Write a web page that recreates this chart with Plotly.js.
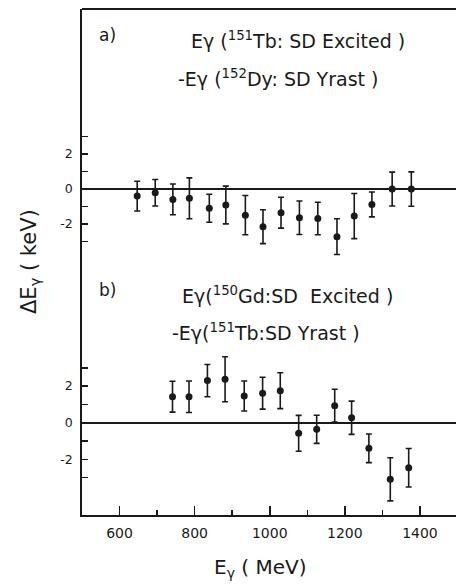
<!DOCTYPE html>
<html>
<head>
<meta charset="utf-8">
<script src="https://cdn.plot.ly/plotly-3.0.1.min.js"></script>
<style>html,body{margin:0;padding:0;background:#fff;overflow:hidden}#chart{width:456px;height:586px}</style>
</head>
<body>
<div id="chart"></div>
<script>
// Panel a) : Eγ(151Tb SD excited) - Eγ(152Dy SD yrast)
const energyA = [647, 695, 742, 786, 839, 883, 935, 982, 1030, 1079, 1128, 1179, 1225, 1272, 1326, 1377];
const deltaA  = [-0.4, -0.21, -0.59, -0.53, -1.10, -0.91, -1.49, -2.15, -1.35, -1.64, -1.68, -2.72, -1.54, -0.88, 0.0, 0.0];
const errA    = [0.85, 0.76, 0.88, 1.17, 0.80, 1.08, 1.12, 0.97, 0.88, 0.96, 0.93, 1.02, 1.29, 0.71, 0.97, 0.98];
// Panel b) : Eγ(150Gd SD excited) - Eγ(151Tb SD yrast)
const energyB = [741, 785, 834, 881, 932, 981, 1028, 1077, 1125, 1173, 1218, 1264, 1321, 1370];
const deltaB  = [1.42, 1.42, 2.30, 2.37, 1.46, 1.61, 1.75, -0.58, -0.36, 0.93, 0.27, -1.40, -3.09, -2.46];
const errB    = [0.84, 0.86, 0.88, 1.23, 0.82, 0.87, 0.98, 0.98, 0.77, 0.90, 0.91, 0.78, 1.18, 1.05];

const xMajor = [600, 800, 1000, 1200, 1400];
const xMinor = [700, 900, 1100, 1300];
const yTicks = [-3, -2, -1, 0, 1, 2, 3];
const yTickText = ['', '-2', '', '0', '', '2', ''];

const ink = '#1a1a1a';
const font = 'DejaVu Sans, Liberation Sans, sans-serif';

const errStyle = {type: 'data', visible: true, color: ink, thickness: 1.6, width: 3};
const traces = [
  {x: energyA, y: deltaA, xaxis: 'x', yaxis: 'y2', type: 'scatter', mode: 'markers',
   marker: {color: ink, size: 7}, error_y: Object.assign({array: errA}, errStyle), hoverinfo: 'none'},
  {x: energyB, y: deltaB, xaxis: 'x', yaxis: 'y', type: 'scatter', mode: 'markers',
   marker: {color: ink, size: 7}, error_y: Object.assign({array: errB}, errStyle), hoverinfo: 'none'}
];

const split = 0.4249;
const yCommon = {
  tickmode: 'array', tickvals: yTicks, ticktext: yTickText,
  ticks: 'inside', ticklen: 6, tickwidth: 1.5, tickcolor: ink,
  showline: true, linecolor: ink, linewidth: 1.8,
  showgrid: false, zeroline: true, zerolinecolor: ink, zerolinewidth: 1.6,
  tickfont: {family: font, size: 12.5, color: ink}, ticklabelstandoff: 5,
  anchor: 'x', fixedrange: true
};

const textFont = {family: font, size: 19, color: ink};
const layout = {
  width: 456, height: 586,
  margin: {l: 82, r: 0, t: 9, b: 71},
  paper_bgcolor: '#fff', plot_bgcolor: '#fff',
  showlegend: false,
  font: {family: font, color: ink},
  xaxis: {
    range: [500, 1496], tickmode: 'array', tickvals: xMajor, ticktext: xMajor.map(String),
    ticks: 'inside', ticklen: 9, tickwidth: 1.5, tickcolor: ink,
    minor: {tickmode: 'array', tickvals: xMinor, ticks: 'inside', ticklen: 5, tickwidth: 1.5, tickcolor: ink, showgrid: false},
    showline: true, linecolor: ink, linewidth: 1.8, showgrid: false, zeroline: false,
    tickfont: {family: font, size: 14, color: ink}, ticklabelstandoff: 4, fixedrange: true
  },
  yaxis: Object.assign({domain: [0, split], range: [-5.04, 6.70]}, yCommon),
  yaxis2: Object.assign({domain: [split, 1], range: [-6.34, 10.29]}, yCommon),
  shapes: [
    {type: 'line', xref: 'paper', yref: 'paper', x0: 0, x1: 1, y0: 1, y1: 1, line: {color: ink, width: 1.8}}
  ],
  annotations: [
    {xref: 'paper', yref: 'paper', x: 0.476, y: -0.105, xanchor: 'center', yanchor: 'middle',
     text: 'E<sub>γ</sub> ( MeV)', showarrow: false, font: {family: font, size: 20, color: ink}},
    {xref: 'paper', yref: 'paper', x: -0.139, y: 0.5, xanchor: 'center', yanchor: 'middle', textangle: -90,
     text: 'ΔE<sub>γ</sub> ( keV)', showarrow: false, font: {family: font, size: 21, color: ink}},
    {xref: 'paper', yref: 'paper', x: 0.04, y: 0.949, xanchor: 'left', yanchor: 'middle',
     text: 'a)', showarrow: false, font: {family: font, size: 17, color: ink}},
    {xref: 'paper', yref: 'paper', x: 0.285, y: 0.939, xanchor: 'left', yanchor: 'middle',
     text: 'Eγ (<sup>151</sup>Tb: SD Excited )', showarrow: false, font: textFont},
    {xref: 'paper', yref: 'paper', x: 0.252, y: 0.864, xanchor: 'left', yanchor: 'middle',
     text: '-Eγ (<sup>152</sup>Dy: SD Yrast )', showarrow: false, font: textFont},
    {xref: 'paper', yref: 'paper', x: 0.04, y: 0.445, xanchor: 'left', yanchor: 'middle',
     text: 'b)', showarrow: false, font: {family: font, size: 17, color: ink}},
    {xref: 'paper', yref: 'paper', x: 0.262, y: 0.435, xanchor: 'left', yanchor: 'middle',
     text: 'Eγ(<sup>150</sup>Gd:SD  Excited )', showarrow: false, font: textFont},
    {xref: 'paper', yref: 'paper', x: 0.235, y: 0.362, xanchor: 'left', yanchor: 'middle',
     text: '-Eγ(<sup>151</sup>Tb:SD Yrast )', showarrow: false, font: textFont}
  ]
};

Plotly.newPlot('chart', traces, layout, {staticPlot: true, displayModeBar: false});
</script>
</body>
</html>
